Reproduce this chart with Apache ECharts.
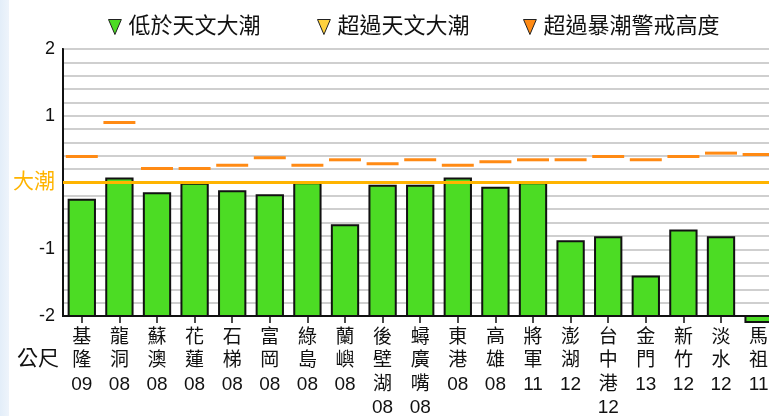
<!DOCTYPE html>
<html>
<head>
<meta charset="utf-8">
<script src="https://cdn.jsdelivr.net/npm/echarts@6/dist/echarts.min.js"></script>
<style>
  html, body { margin: 0; padding: 0; background: #fff; }
  #chart { width: 769px; height: 416px; }
</style>
</head>
<body>
<div id="chart"></div>
<script>
// Tide stations, observation hour, water level (m, relative to 大潮) and storm-surge warning level
const stations = ['基隆', '龍洞', '蘇澳', '花蓮', '石梯', '富岡', '綠島', '蘭嶼', '後壁湖', '蟳廣嘴',
                  '東港', '高雄', '將軍', '澎湖', '台中港', '金門', '新竹', '淡水', '馬祖'];
const hours = ['09', '08', '08', '08', '08', '08', '08', '08', '08', '08',
               '08', '08', '11', '12', '12', '13', '12', '12', '11'];
const waterLevel = [-0.26, 0.06, -0.16, -0.02, -0.13, -0.19, -0.01, -0.64, -0.05, -0.05,
                    0.06, -0.08, -0.01, -0.88, -0.82, -1.41, -0.72, -0.82, -2.09];
const warningLevel = [0.39, 0.90, 0.21, 0.21, 0.26, 0.37, 0.26, 0.34, 0.28, 0.34,
                      0.26, 0.31, 0.34, 0.34, 0.39, 0.34, 0.39, 0.44, 0.42];
const springTide = 0;
const yMin = -2, yMax = 2;

const GREEN = '#4cdc24';
const YELLOW = '#ffd23c';
const ORANGE = '#ff8a14';
const TIDE_LINE = '#ffb400';
const FONT = "'Liberation Sans', 'Noto Sans CJK TC', sans-serif";

const chart = echarts.init(document.getElementById('chart'));

function legendAt(left, name) {
  return {
    left: left, top: 11,
    itemWidth: 13, itemHeight: 15, itemGap: 0,
    icon: 'path://M0,0 L12,0 L6,14 Z',
    itemStyle: { borderColor: '#222', borderWidth: 1 },
    selectedMode: false,
    textStyle: { fontFamily: FONT, fontSize: 22, color: '#111', padding: [0, 0, 0, 2] },
    data: [name]
  };
}

chart.setOption({
  animation: false,
  backgroundColor: '#fff',
  graphic: [
    {
      type: 'rect', left: 0, top: 0, z: -10,
      shape: { width: 9, height: 416 },
      style: {
        fill: new echarts.graphic.LinearGradient(0, 0, 1, 0, [
          { offset: 0, color: '#e3eef9' }, { offset: 1, color: '#eef4fb' }
        ])
      }
    },
    {
      type: 'text', left: 17, top: 349,
      style: { text: '公尺', fontFamily: FONT, fontSize: 21, fill: '#111' }
    }
  ],
  legend: [
    legendAt(103, '低於天文大潮'),
    legendAt(312, '超過天文大潮'),
    legendAt(518, '超過暴潮警戒高度')
  ],
  grid: {
    left: 63, right: -8.4, top: 49, bottom: 100,
    outerBoundsMode: 'none',
    containLabel: false,
    show: true, backgroundColor: '#fff', borderColor: '#333', borderWidth: 2
  },
  xAxis: {
    type: 'category',
    data: stations,
    boundaryGap: true,
    axisLine: { onZero: false, lineStyle: { color: '#111', width: 2 } },
    axisTick: { show: true, alignWithLabel: true, length: 7, lineStyle: { color: '#111', width: 1.5 } },
    axisLabel: {
      interval: 0, margin: 10,
      fontFamily: FONT, fontSize: 19, lineHeight: 23.5, color: '#111',
      formatter: (name, idx) => name.split('').join('\n') + '\n' + hours[idx]
    },
    splitLine: { show: false }
  },
  yAxis: {
    type: 'value',
    min: yMin, max: yMax, interval: 1,
    axisLine: { show: true, lineStyle: { color: '#111', width: 2 } },
    axisTick: { show: false },
    minorTick: { show: false, splitNumber: 5 },
    splitLine: { show: true, lineStyle: { color: '#cfcfcf', width: 2 } },
    minorSplitLine: { show: true, lineStyle: { color: '#cfcfcf', width: 2 } },
    axisLabel: {
      margin: 8, fontFamily: FONT, fontSize: 18, color: '#111',
      formatter: v => (v === springTide ? '{tide|大潮}' : String(v)),
      rich: { tide: { color: TIDE_LINE, fontSize: 21, fontFamily: FONT } }
    }
  },
  series: [
    {
      name: '低於天文大潮',
      type: 'custom',
      clip: false,
      itemStyle: { color: GREEN },
      encode: { x: 0, y: 1 },
      data: waterLevel.map((v, i) => [i, v]),
      renderItem: (params, api) => {
        const i = api.value(0), v = api.value(1);
        const top = api.coord([i, v]);
        const base = api.coord([i, yMin]);
        const w = api.size([1, 0])[0] * 0.7;
        return {
          type: 'rect',
          shape: { x: top[0] - w / 2, y: Math.min(top[1], base[1]), width: w, height: Math.abs(base[1] - top[1]) },
          style: { fill: GREEN, stroke: '#111', lineWidth: 2 }
        };
      },
      z: 2
    },
    { name: '超過天文大潮', type: 'bar', data: [], itemStyle: { color: YELLOW } },
    { name: '超過暴潮警戒高度', type: 'bar', data: [], itemStyle: { color: ORANGE } },
    {
      name: '暴潮警戒高度',
      type: 'custom',
      encode: { x: 0, y: 1 },
      data: warningLevel.map((v, i) => [i, v]),
      renderItem: (params, api) => {
        const i = api.value(0), v = api.value(1);
        const p = api.coord([i, v]);
        const w = api.size([1, 0])[0] * 0.85;
        return {
          type: 'line',
          shape: { x1: p[0] - w / 2, y1: p[1], x2: p[0] + w / 2, y2: p[1] },
          style: { stroke: ORANGE, lineWidth: 3 }
        };
      },
      markLine: {
        silent: true,
        symbol: 'none',
        label: { show: false },
        lineStyle: { color: TIDE_LINE, width: 3, type: 'solid' },
        data: [{ yAxis: springTide }]
      },
      z: 5
    }
  ]
});
</script>
</body>
</html>
